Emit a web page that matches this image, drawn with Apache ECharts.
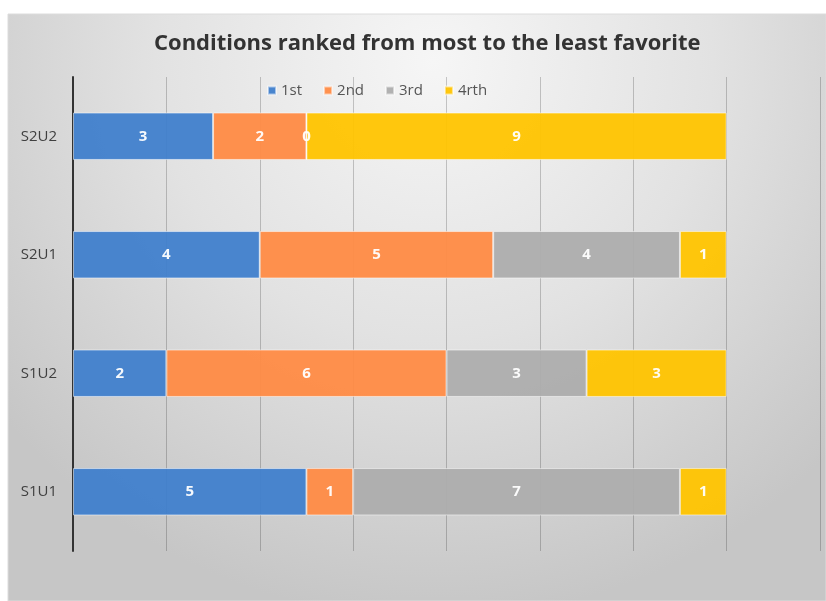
<!DOCTYPE html>
<html>
<head>
<meta charset="utf-8">
<title>Conditions ranked</title>
<script src="https://cdn.jsdelivr.net/npm/echarts@6/dist/echarts.min.js"></script>
<style>
html, body { margin: 0; padding: 0; background: #fff; }
#main { width: 826px; height: 601px; }
</style>
</head>
<body>
<div id="main"></div>
<script>
// 条件（从下往上）
var conditions = ['S1U1', 'S1U2', 'S2U1', 'S2U2'];
var ranks = ['1st', '2nd', '3rd', '4rth'];
var first = [5, 2, 4, 3];
var second = [1, 6, 5, 2];
var third = [7, 3, 4, 0];
var fourth = [1, 3, 1, 9];
var xTicks = [0, 16, 2];

var colors = ['#4080cc', '#ff8b45', '#adadad', '#ffc400'];
var values = [first, second, third, fourth];

var series = [];
for (var i = 0; i < ranks.length; i++) {
  series.push({
    name: ranks[i],
    type: 'bar',
    stack: 'total',
    barCategoryGap: '60%',
    data: values[i],
    itemStyle: {
      color: colors[i],
      opacity: 0.95,
      borderColor: 'rgba(255,255,255,0.55)',
      borderWidth: 1
    },
    label: {
      show: true,
      position: 'inside',
      color: '#fff',
      fontWeight: 'bold',
      fontSize: 15,
      fontFamily: 'Open Sans'
    }
  });
}

var myChart = echarts.init(document.getElementById('main'));
var option = {
  animation: false,
  color: colors,
  graphic: [{
    type: 'rect',
    z: -10,
    shape: { x: 8, y: 14, width: 818, height: 587 },
    style: {
      fill: {
        type: 'radial', x: 0.52, y: 0.08, r: 0.95,
        colorStops: [
          { offset: 0, color: '#f6f6f6' },
          { offset: 0.5, color: '#e2e2e2' },
          { offset: 1, color: '#c6c6c6' }
        ]
      },
      stroke: '#dcdcdc',
      lineWidth: 1
    }
  }],
  title: {
    text: 'Conditions ranked from most to the least favorite',
    left: 149,
    top: 28,
    textStyle: {
      fontFamily: 'Open Sans',
      fontWeight: 'bold',
      fontSize: 22,
      color: '#333'
    }
  },
  legend: {
    data: ranks,
    top: 78,
    left: 262,
    itemWidth: 8,
    itemHeight: 8,
    itemGap: 21,
    icon: 'rect',
    textStyle: { fontFamily: 'Open Sans', fontSize: 15, color: '#555' }
  },
  grid: { left: 73, right: 6, top: 77, bottom: 50, containLabel: false },
  xAxis: {
    type: 'value',
    min: xTicks[0],
    max: xTicks[1],
    interval: xTicks[2],
    axisLabel: { show: false },
    axisLine: { show: false },
    axisTick: { show: false },
    splitLine: { lineStyle: { color: 'rgba(0,0,0,0.2)', width: 1 } }
  },
  yAxis: {
    type: 'category',
    data: conditions,
    axisTick: { show: false },
    axisLine: { lineStyle: { color: '#333', width: 2 } },
    axisLabel: { fontFamily: 'Open Sans', fontSize: 15, color: '#404040', margin: 16 }
  },
  series: series
};

myChart.setOption(option);
window.addEventListener('resize', function () {
  myChart.resize();
});
</script>
</body>
</html>
